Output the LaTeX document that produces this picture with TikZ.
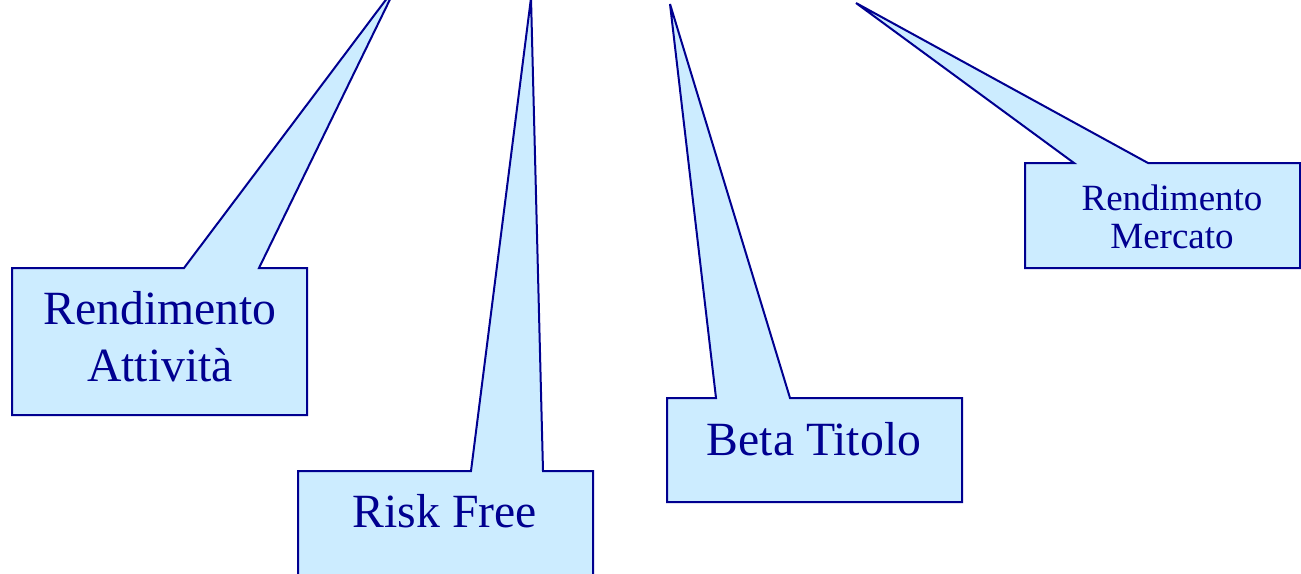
\documentclass[tikz,border=0pt]{standalone}
\usepackage{fontspec}
\setmainfont{Liberation Serif}
\definecolor{bubblefill}{HTML}{CCECFF}
\definecolor{bubbleblue}{HTML}{000090}
\tikzset{
  bubble/.style={draw=bubbleblue, fill=bubblefill, line width=2pt, line join=miter},
  bigtext/.style={text=bubbleblue, inner sep=0pt, align=center, font=\fontsize{47.7}{57}\selectfont},
  smalltext/.style={text=bubbleblue, inner sep=0pt, align=center, font=\fontsize{37}{38}\selectfont}
}
\begin{document}
\begin{tikzpicture}[x=1pt,y=-1pt]
      \clip (0,0) rectangle (1301,573);

      % Rendimento Attivita
      \draw[bubble]   (12,268) -- (184,268) -- (397,-15) -- (259,268) -- (307,268)
                      -- (307,415) -- (12,415) -- cycle;
      \node[bigtext]  (att) at (160,337) {Rendimento\\Attività};

      % Risk Free
      \draw[bubble]   (298,471) -- (471,471) -- (531,-2) -- (543,471) -- (593,471)
                      -- (593,600) -- (298,600) -- cycle;
      \node[bigtext]  (rf) at (445,511) {Risk Free};

      % Beta Titolo
      \draw[bubble]   (667,398) -- (716,398) -- (670,4) -- (790,398) -- (962,398)
                      -- (962,502) -- (667,502) -- cycle;
      \node[bigtext]  (beta) at (814,439) {Beta Titolo};

      % Rendimento Mercato
      \draw[bubble]   (1025,163) -- (1074,163) -- (856,3) -- (1148,163) -- (1300,163)
                      -- (1300,268) -- (1025,268) -- cycle;
      \node[smalltext](merc) at (1172,217) {Rendimento\\Mercato};
\end{tikzpicture}
\end{document}
